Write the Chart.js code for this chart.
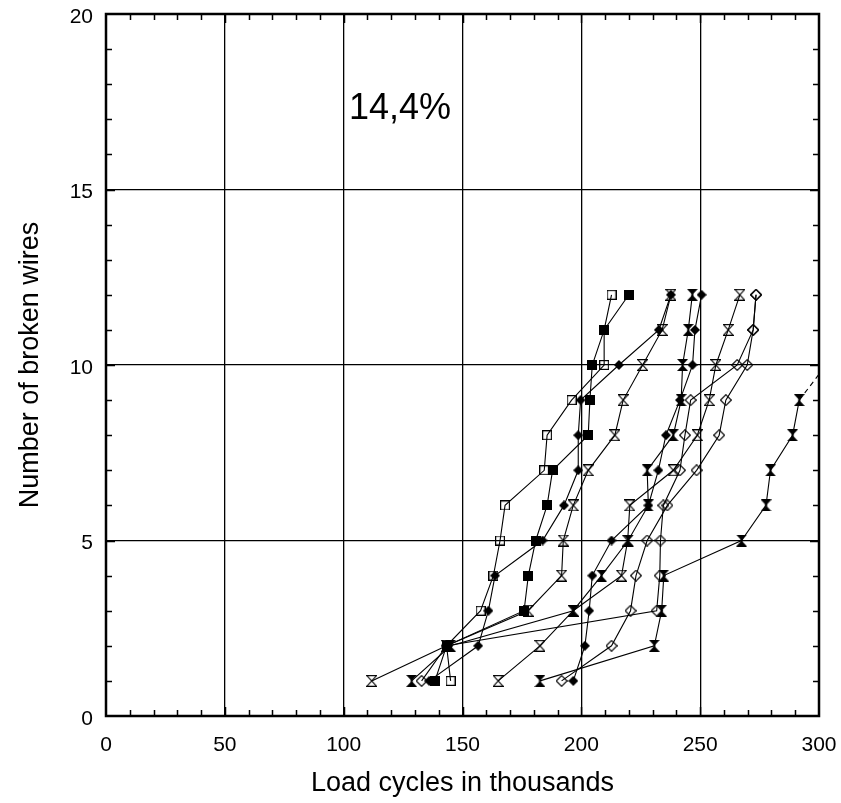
<!DOCTYPE html>
<html><head><meta charset="utf-8">
<script src="https://cdn.jsdelivr.net/npm/chart.js@4.4.0/dist/chart.umd.min.js"></script>
<style>html,body{margin:0;padding:0;background:#fff;}#wrap{width:841px;height:803px;}</style>
</head><body><div id="wrap"><canvas id="c" width="841" height="803"></canvas></div>
<script>
// ---- data (load cycles in thousands at which the n-th wire broke) ----
const wires = [1,2,3,4,5,6,7,8,9,10,11,12];
const openSquareA   = [145,143.3,157.6,163,165.8,167.9,184.4,185.6,195.9,209.6,209.6,212.7];
const filledSquareA = [138.4,143.3,175.9,177.7,180.8,185.6,187.9,202.9,203.6,204.6,209.6,220];
const filledDiamA   = [136,156.6,160.9,163.7,183.7,192.7,198.7,198.7,199.7,215.8,232.6,237.7];
const filledDiamB   = [196.6,201.5,203.3,204.6,212.7,228.2,232.4,235.6,241.5,246.8,247.8,250.6];
const openDiamA     = [132.8,143.3,231.7,233,233.3,234.5,241.5,243.6,246,265.6,272.3,273.5];
const openDiamB     = [191.7,212.7,220.7,223,227.7,236.2,248.5,258,260.8,269.8,272.3,273.5];
const openHourA     = [111.8,143.3,177.6,191.7,192.4,196.6,202.9,214.1,217.6,225.8,234,237.7];
const openHourB     = [165,182.6,196.6,216.9,219.5,220.4,238.7,248.8,253.8,256.6,261.8,266.7];
const filledHourA   = [128.6,145,196.6,208.5,219.7,228.2,227.7,238.7,242,242.6,245,246.7];
const filledHourB   = [182.6,230.7,233.8,234.7,267.4,277.7,279.6,288.9,291.7,303];
const xTickLabels = [0,50,100,150,200,250,300];
const yTickLabels = [0,5,10,15,20];
const panelLabel = '14,4%';
const panelLabelPos = [123.7,17.3];

// ---- marker shapes ----
function mk(w,h,f){const c=document.createElement('canvas');c.width=w;c.height=h;const g=c.getContext('2d');g.strokeStyle='#000';g.fillStyle='#000';g.lineWidth=1;f(g,w,h);return c;}
const M = {
  oSq: mk(10,10,(g)=>{g.lineWidth=1.2;g.strokeRect(0.6,0.6,8.8,8.8);}),
  fSq: mk(10,10,(g)=>{g.fillRect(0,0,10,10);}),
  fDi: mk(10,10,(g)=>{g.beginPath();g.moveTo(5,0);g.lineTo(10,5);g.lineTo(5,10);g.lineTo(0,5);g.closePath();g.fill();}),
  oDi: mk(12,12,(g)=>{g.lineWidth=1.1;g.beginPath();g.moveTo(6,0.6);g.lineTo(11.4,6);g.lineTo(6,11.4);g.lineTo(0.6,6);g.closePath();g.stroke();}),
  oHg: mk(11,12,(g)=>{g.lineWidth=1.1;g.beginPath();g.moveTo(0.6,0.6);g.lineTo(10.4,0.6);g.lineTo(0.6,11.4);g.lineTo(10.4,11.4);g.closePath();g.stroke();}),
  fHg: mk(11,12,(g)=>{g.beginPath();g.moveTo(0,0);g.lineTo(11,0);g.lineTo(5.5,6);g.closePath();g.fill();g.beginPath();g.moveTo(0,12);g.lineTo(11,12);g.lineTo(5.5,6);g.closePath();g.fill();g.fillRect(4.5,4.5,2,3);})
};

function series(xs, style, extra){
  return Object.assign({
    data: xs.map((x,i)=>({x:x,y:wires[i]})),
    showLine:true, borderColor:'#000', borderWidth:1.1, pointStyle:M[style],
    pointRadius:5, pointHoverRadius:5, fill:false, tension:0
  }, extra||{});
}

const datasets = [
  series(openDiamA,'oDi'), series(openDiamB,'oDi'),
  series(openHourA,'oHg'), series(openHourB,'oHg'),
  series(filledHourA,'fHg'),
  series(filledHourB,'fHg',{
    pointRadius: c=> c.dataIndex===9?0:5,
    segment:{borderDash: c=> c.p1DataIndex===9?[5,4]:undefined}
  }),
  series(filledDiamA,'fDi'), series(filledDiamB,'fDi'),
  series(openSquareA,'oSq'), series(filledSquareA,'fSq')
];

const FONT = "'Liberation Sans', Arial, sans-serif";

const framePlugin = {
  id:'frame',
  afterDraw(chart){
    const {ctx, chartArea:a, scales:{x,y}} = chart;
    ctx.save();
    ctx.strokeStyle='#000';
    ctx.lineWidth=1.5;
    ctx.beginPath();
    for(let v=10; v<300; v+=10){
      const px=Math.round(x.getPixelForValue(v))+0.5;
      const len = v%50===0?9:6;
      ctx.moveTo(px,a.bottom); ctx.lineTo(px,a.bottom-len);
      ctx.moveTo(px,a.top); ctx.lineTo(px,a.top+len);
    }
    for(let v=1; v<20; v++){
      const py=Math.round(y.getPixelForValue(v))+0.5;
      const len = v%5===0?9:6;
      ctx.moveTo(a.left,py); ctx.lineTo(a.left+len,py);
      ctx.moveTo(a.right,py); ctx.lineTo(a.right-len,py);
    }
    ctx.stroke();
    ctx.lineWidth=2.5;
    ctx.strokeRect(a.left, a.top, a.right-a.left, a.bottom-a.top);
    ctx.fillStyle='#000';
    ctx.font='36px '+FONT;
    ctx.textAlign='center'; ctx.textBaseline='middle';
    ctx.fillText(panelLabel, x.getPixelForValue(panelLabelPos[0]), y.getPixelForValue(panelLabelPos[1]));
    ctx.restore();
  }
};

function zeroPad(s){s.paddingTop=0;s.paddingBottom=0;s.paddingLeft=0;s.paddingRight=0;}

new Chart(document.getElementById('c'), {
  type:'scatter',
  data:{datasets},
  options:{
    responsive:false, animation:false, devicePixelRatio:1,
    layout:{padding:{top:14,right:22,left:0,bottom:0}},
    plugins:{legend:{display:false},tooltip:{enabled:false}},
    scales:{
      x:{
        type:'linear', min:0, max:300,
        afterFit(s){s.height=87; zeroPad(s);},
        afterBuildTicks(s){s.ticks=[]; for(let v=0;v<=300;v+=10) s.ticks.push({value:v});},
        ticks:{autoSkip:false, maxRotation:0, padding:17, color:'#000',
          font:{family:FONT,size:21},
          callback:(v)=> xTickLabels.includes(v)?String(v):''},
        grid:{drawTicks:false, lineWidth:1.3,
          color:(c)=> (c.tick && c.tick.value%50===0 && c.tick.value>0 && c.tick.value<300)?'#000':'rgba(0,0,0,0)'},
        border:{display:false},
        title:{display:true, text:'Load cycles in thousands', color:'#000',
          font:{family:FONT,size:27}, padding:{top:0,bottom:3}}
      },
      y:{
        type:'linear', min:0, max:20,
        afterFit(s){s.width=106; zeroPad(s);},
        afterBuildTicks(s){s.ticks=[]; for(let v=0;v<=20;v+=1) s.ticks.push({value:v});},
        ticks:{autoSkip:false, padding:13, color:'#000', labelOffset:3,
          font:{family:FONT,size:21},
          callback:(v)=> yTickLabels.includes(v)?String(v):''},
        grid:{drawTicks:false, lineWidth:1.3,
          color:(c)=> (c.tick && c.tick.value%5===0 && c.tick.value>0 && c.tick.value<20)?'#000':'rgba(0,0,0,0)'},
        border:{display:false},
        title:{display:true, text:'Number of broken wires', color:'#000',
          font:{family:FONT,size:27}, padding:{top:14,bottom:0}}
      }
    }
  },
  plugins:[framePlugin]
});
</script>
</body></html>
